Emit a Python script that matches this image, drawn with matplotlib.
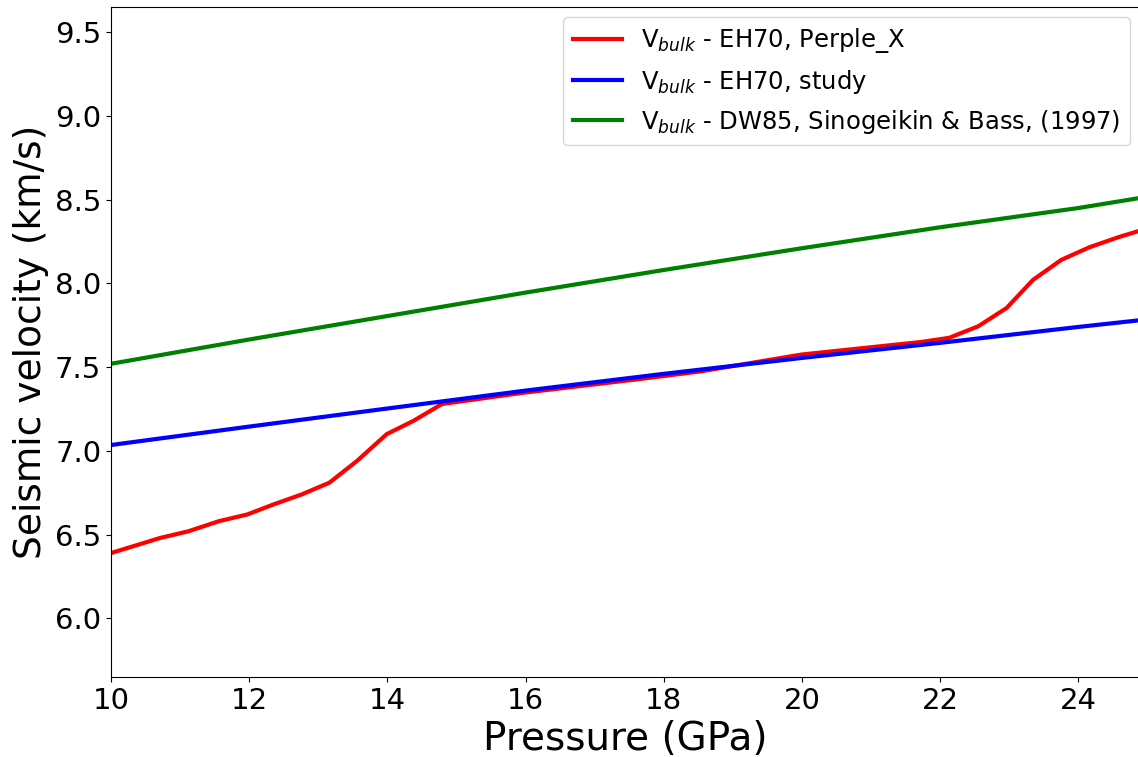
import numpy as np
import matplotlib
matplotlib.use("Agg")
import matplotlib.pyplot as plt

# Perple_X curve (EH70)
p_perplex = [10.0, 10.71, 11.12, 11.56, 11.97, 12.35, 12.76, 13.16, 13.56, 13.99,
             14.38, 14.79, 15.93, 17.67, 18.54, 19.70, 19.99, 21.72, 22.13, 22.55,
             22.96, 23.34, 23.75, 24.16, 24.58, 24.89]
v_perplex = [6.39, 6.48, 6.52, 6.58, 6.62, 6.68, 6.74, 6.81, 6.94, 7.10,
             7.18, 7.28, 7.345, 7.43, 7.475, 7.555, 7.575, 7.65, 7.675, 7.744,
             7.853, 8.02, 8.14, 8.216, 8.276, 8.315]

# this study (EH70)
p_study = [10.0, 12.0, 14.0, 16.0, 18.0, 20.0, 22.0, 24.0, 24.89]
v_study = [7.035, 7.145, 7.253, 7.36, 7.46, 7.555, 7.645, 7.74, 7.78]

# Sinogeikin & Bass (1997), DW85
p_sb = [10.0, 12.0, 14.0, 16.0, 18.0, 20.0, 22.0, 24.0, 24.89]
v_sb = [7.52, 7.665, 7.805, 7.945, 8.08, 8.21, 8.335, 8.45, 8.51]

fig = plt.figure(figsize=(11.38, 7.57), dpi=100)
ax = fig.add_axes([111/1138, 80/757, 1029/1138, 670/757])

ax.plot(p_perplex, v_perplex, color="red", lw=3, label=r"V$_{bulk}$ - EH70, Perple_X")
ax.plot(p_study, v_study, color="blue", lw=3, label=r"V$_{bulk}$ - EH70, study")
ax.plot(p_sb, v_sb, color="green", lw=3, label=r"V$_{bulk}$ - DW85, Sinogeikin & Bass, (1997)")

ax.set_xlim(10, 24.89)
ax.set_ylim(5.65, 9.65)
ax.set_xticks([10, 12, 14, 16, 18, 20, 22, 24])
ax.set_yticks(np.arange(6.0, 9.51, 0.5))
ax.tick_params(labelsize=21)
ax.set_xlabel("Pressure (GPa)", fontsize=28)
ax.set_ylabel("Seismic velocity (km/s)", fontsize=27)
ax.legend(loc="upper right", fontsize=17.5, borderaxespad=0.4)

fig.savefig("out.png", dpi=100)
